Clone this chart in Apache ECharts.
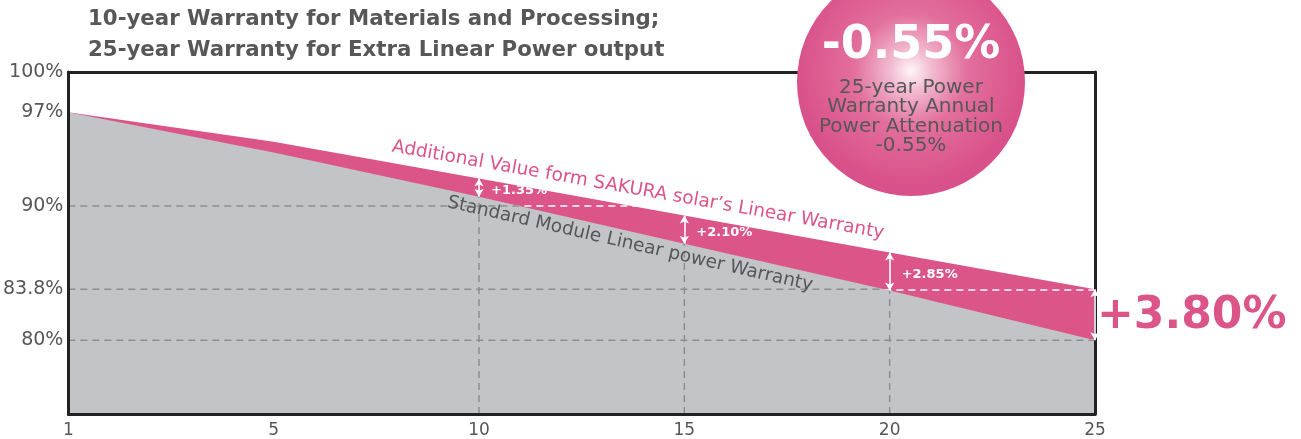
<!DOCTYPE html>
<html><head><meta charset="utf-8">
<script src="https://cdn.jsdelivr.net/npm/echarts@6/dist/echarts.min.js"></script>
<style>html,body{margin:0;padding:0;background:#fff}#c{width:1301px;height:439px}</style>
</head><body><div id="c"></div>
<script>
// ---- data ----
const years = ['1', '5', '10', '15', '20', '25'];
const sakuraValues = [97, 94.8, 92.05, 89.3, 86.55, 83.8];
const standardValues = [97, 94.0, 90.7, 87.2, 83.7, 80];
const yTickValues = [80, 83.8, 90, 97, 100];
const gridLineValues = [90, 83.8, 80];
const guideYears = ['10', '15', '20'];
const arrowYears = ['10', '15', '20', '25'];
const titleLines = ['10-year Warranty for Materials and Processing;', '25-year Warranty for Extra Linear Power output'];
const badgeValue = '-0.55%';
const badgeLines = ['25-year Power', 'Warranty Annual', 'Power Attenuation', '-0.55%'];
const sakuraCaption = 'Additional Value form SAKURA solar\u2019s Linear Warranty';
const standardCaption = 'Standard Module Linear power Warranty';

// ---- style ----
const FONT = 'DejaVu Sans, Verdana, sans-serif';
const PINK = '#DB5589';
const GRAY = '#C3C4C6';
const DARK = '#222222';
const TEXT = '#575757';
const Y_MIN = 74.5, Y_MAX = 100;

const chart = echarts.init(document.getElementById('c'), null, {renderer: 'canvas'});

const gainData = arrowYears.map(function (y) {
  const i = years.indexOf(y);
  const d = sakuraValues[i] - standardValues[i];
  const last = i === years.length - 1;
  return {
    value: [y, (sakuraValues[i] + standardValues[i]) / 2],
    label: last
      ? {show: true, position: 'right', distance: 2, offset: [0, 2], formatter: '+' + d.toFixed(2) + '%',
         color: PINK, opacity: 1, fontSize: 44, fontWeight: 'bold', fontFamily: FONT}
      : {show: true, position: 'right', distance: 12, offset: [0, 3], formatter: '+' + d.toFixed(2) + '%',
         color: '#ffffff', opacity: 1, fontSize: 13, fontWeight: 'bold', fontFamily: FONT}
  };
});

const arrowData = arrowYears.map(function (y) {
  const i = years.indexOf(y);
  return [{coord: [y, standardValues[i]]}, {coord: [y, sakuraValues[i]]}];
});

const axisLineStyle = {show: true, onZero: false, lineStyle: {color: DARK, width: 3}};

const option = {
  animation: false,
  title: {
    text: titleLines.join('\n'),
    left: 88, top: 4, padding: 0,
    textStyle: {fontFamily: FONT, fontSize: 21.3, fontWeight: 'bold', color: TEXT, lineHeight: 31}
  },
  grid: {left: 68, right: 206, top: 72, bottom: 24, containLabel: false},
  xAxis: [
    {type: 'category', data: years, boundaryGap: false, z: 10,
     axisLine: axisLineStyle, axisTick: {show: false}, splitLine: {show: false},
     axisLabel: {color: TEXT, fontSize: 17, margin: 8, fontFamily: FONT}},
    {type: 'category', data: years, boundaryGap: false, position: 'top', z: 10,
     axisLine: axisLineStyle, axisTick: {show: false}, axisLabel: {show: false}, splitLine: {show: false}}
  ],
  yAxis: [
    {type: 'value', min: Y_MIN, max: Y_MAX, z: 10,
     axisLine: axisLineStyle, axisTick: {show: false}, splitLine: {show: false},
     axisLabel: {customValues: yTickValues, formatter: function (v) { return v + '%'; },
                 color: TEXT, fontSize: 19, margin: 5, fontFamily: FONT}},
    {type: 'value', min: Y_MIN, max: Y_MAX, position: 'right', z: 10,
     axisLine: axisLineStyle, axisTick: {show: false}, axisLabel: {show: false}, splitLine: {show: false}}
  ],
  series: [
    {
      name: 'SAKURA', type: 'line', data: sakuraValues, z: 1,
      symbol: 'none', lineStyle: {width: 0}, areaStyle: {color: PINK, opacity: 1, origin: 'start'},
      markLine: {
        silent: true, symbol: 'none', z: 2, animation: false,
        label: {show: false},
        lineStyle: {color: '#ffffff', type: [7, 5], width: 1.5, opacity: 1},
        data: gridLineValues.map(function (v) { return {yAxis: v}; })
      }
    },
    {
      name: 'Standard', type: 'line', data: standardValues, z: 3,
      symbol: 'none', lineStyle: {width: 0}, areaStyle: {color: GRAY, opacity: 1, origin: 'start'},
      markLine: {
        silent: true, z: 11, animation: false,
        symbol: ['arrow', 'arrow'], symbolSize: [7, 8],
        label: {show: false},
        itemStyle: {color: '#ffffff', opacity: 1},
        lineStyle: {color: '#ffffff', type: 'solid', width: 1.6, opacity: 1},
        data: arrowData
      }
    },
    {
      name: 'guides', type: 'custom', z: 4, silent: true,
      data: [[0, Y_MIN]],
      renderItem: function (params, api) {
        const children = [];
        const dash = {stroke: '#8E8E8E', lineWidth: 1.5, lineDash: [7, 5], fill: null};
        gridLineValues.forEach(function (v) {
          const p0 = api.coord([0, v]);
          let xEnd = api.coord([years.length - 1, v])[0];
          for (let i = 1; i < standardValues.length; i++) {
            if (standardValues[i] < v) {
              const t = (standardValues[i - 1] - v) / (standardValues[i - 1] - standardValues[i]);
              const a = api.coord([i - 1, v])[0], b = api.coord([i, v])[0];
              xEnd = a + t * (b - a);
              break;
            }
          }
          children.push({type: 'line', shape: {x1: p0[0], y1: p0[1], x2: xEnd, y2: p0[1]}, style: dash});
        });
        guideYears.forEach(function (y) {
          const i = years.indexOf(y);
          const b = api.coord([i, Y_MIN]);
          const t = api.coord([i, standardValues[i]]);
          children.push({type: 'line', shape: {x1: b[0], y1: b[1], x2: t[0], y2: t[1]}, style: dash});
        });
        return {type: 'group', children: children};
      }
    },
    {
      name: 'gain', type: 'scatter', z: 12, silent: true,
      symbolSize: 0, itemStyle: {opacity: 1}, data: gainData
    }
  ],
  graphic: [
    {type: 'text', x: 638, y: 190, rotation: -10 * Math.PI / 180, z: 15,
     style: {text: sakuraCaption, fill: PINK, font: '18.5px ' + FONT, align: 'center', verticalAlign: 'middle'}},
    {type: 'text', x: 630, y: 244, rotation: -12.9 * Math.PI / 180, z: 15,
     style: {text: standardCaption, fill: TEXT, font: '18.5px ' + FONT, align: 'center', verticalAlign: 'middle'}},
    {type: 'circle', shape: {cx: 911, cy: 82, r: 114}, z: 20,
     style: {fill: new echarts.graphic.RadialGradient(0.5, 0.45, 0.5, [
       {offset: 0, color: '#FFF6F9'},
       {offset: 0.18, color: '#F2BCD0'},
       {offset: 0.5, color: '#E26F9C'},
       {offset: 1, color: '#D9518A'}
     ])}},
    {type: 'text', x: 911, y: 46, z: 21,
     style: {text: badgeValue, fill: '#ffffff', font: 'bold 46px ' + FONT, align: 'center', verticalAlign: 'middle'}},
    {type: 'text', x: 911, y: 117, z: 21,
     style: {text: badgeLines.join('\n'), fill: TEXT, font: '20px ' + FONT, lineHeight: 19.5, align: 'center', verticalAlign: 'middle'}}
  ]
};
chart.setOption(option);
</script>
</body></html>
